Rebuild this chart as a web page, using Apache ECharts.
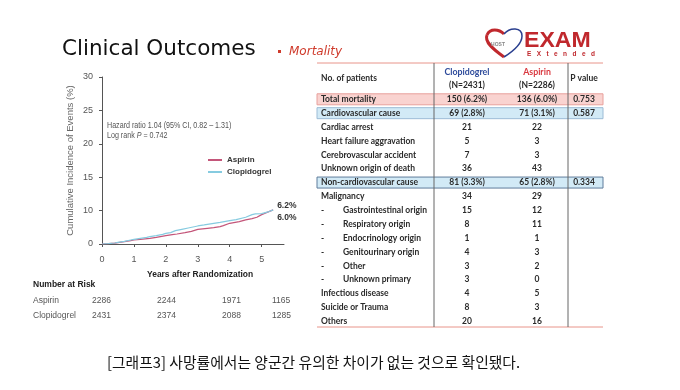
<!DOCTYPE html>
<html><head><meta charset="utf-8">
<script src="https://cdn.jsdelivr.net/npm/echarts@6/dist/echarts.min.js"></script>
<style>html,body{margin:0;padding:0;background:#fff}#c{width:680px;height:390px}</style>
</head><body><div id="c"></div>
<script>
// ---- data ----
const xTicks = [0, 1, 2, 3, 4, 5];
const yTickLabels = ['0', '10', '15', '20', '25', '30'];
const seriesNames = ['Aspirin', 'Clopidogrel'];
const aspirinCurve = [[0,0],[0.2,0.05],[0.4,0.12],[0.5,0.2],[0.7,0.35],[0.9,0.5],[1.0,0.6],[1.2,0.7],[1.5,0.85],[1.7,1.0],[2.0,1.25],[2.2,1.4],[2.35,1.5],[2.6,1.7],[2.8,1.9],[3.0,2.2],[3.3,2.35],[3.5,2.45],[3.7,2.6],[3.8,2.75],[4.0,3.1],[4.3,3.35],[4.5,3.6],[4.7,3.8],[4.85,4.0],[5.0,4.4],[5.15,4.7],[5.36,5.1]];
const clopidogrelCurve = [[0,0],[0.2,0.05],[0.4,0.15],[0.5,0.25],[0.7,0.4],[0.9,0.6],[1.0,0.7],[1.2,0.85],[1.4,1.0],[1.5,1.1],[1.7,1.25],[1.9,1.45],[2.0,1.6],[2.15,1.7],[2.3,2.0],[2.5,2.2],[2.7,2.4],[3.0,2.7],[3.2,2.85],[3.5,3.1],[3.7,3.25],[4.0,3.5],[4.2,3.65],[4.5,4.0],[4.7,4.4],[4.8,4.5],[5.0,4.55],[5.2,4.8],[5.36,5.1]];
const endLabels = ['6.0%', '6.2%'];
const riskLabels = ['Aspirin', 'Clopidogrel'];
const riskAspirin = [2286, 2244, 1971, 1165];
const riskClopidogrel = [2431, 2374, 2088, 1285];
const tableLabels = ['Total mortality','Cardiovascular cause','Cardiac arrest','Heart failure aggravation','Cerebrovascular accident','Unknown origin of death','Non-cardiovascular cause','Malignancy','Gastrointestinal origin','Respiratory origin','Endocrinology origin','Genitourinary origin','Other','Unknown primary','Infectious disease','Suicide or Trauma','Others'];
const tableClop = ['150 (6.2%)','69 (2.8%)','21','5','7','36','81 (3.3%)','34','15','8','1','4','3','3','4','8','20'];
const tableAsp = ['136 (6.0%)','71 (3.1%)','22','3','3','43','65 (2.8%)','29','12','11','1','3','2','0','5','3','16'];
const tablePval = ['0.753','0.587','','','','','0.334','','','','','','','','','',''];

// ---- styling helpers ----
const pinkRows = [0], blueRows = [1, 6], subRows = [8,9,10,11,12,13];
const TF = '"Lato", "Open Sans", sans-serif';
const LS = '"Liberation Sans", Arial, sans-serif';
function txt(x, y, text, font, fill, align, extra) {
  return Object.assign({ type: 'text', x: x, y: y, silent: true,
    style: { text: text, font: font, fill: fill, textAlign: align || 'left', align: align || 'left',
             textVerticalAlign: 'middle', verticalAlign: 'middle' } }, extra || {});
}
function bz(p, stroke, w) {
  return { type: 'bezierCurve', silent: true,
    shape: { x1: p[0], y1: p[1], cpx1: p[2], cpy1: p[3], cpx2: p[4], cpy2: p[5], x2: p[6], y2: p[7] },
    style: { fill: null, stroke: stroke, lineWidth: w } };
}
const g = [];
// title
g.push(txt(62, 49, 'Clinical Outcomes', '21.5px "DejaVu Sans", Verdana, sans-serif', '#111'));
g.push({ type: 'rect', shape: { x: 278, y: 50, width: 3, height: 3 }, style: { fill: '#cf3b2c' } });
g.push(txt(289, 52, 'Mortality', 'italic 12px "DejaVu Sans", sans-serif', '#cf3b2c'));
// logo
g.push(bz([504,57, 494,50, 484,42, 487,35], '#c0282d', 3));
g.push(bz([487,35, 490,28, 499,29, 504,34], '#c0282d', 3));
g.push(bz([504,34, 510,27, 522,27, 522,36], '#2a3f8f', 1.5));
g.push(bz([522,36, 522,44, 512,52, 504,57], '#2a3f8f', 1.5));
g.push(txt(498, 45, 'HOST', 'bold 5px ' + LS, '#888', 'center'));
g.push(txt(524, 41, 'EXAM', 'bold 22px ' + LS, '#c0282d', 'left', { scaleX: 1.05 }));
g.push(txt(527, 54, 'E   X   t   e   n   d   e   d', 'bold 6.5px ' + LS, '#c0282d'));
// table
const TL = 317, TR = 603, TT = 63, TB = 327, R0 = 99.3, RP = 13.875;
const cx = [467, 537, 584];
pinkRows.forEach(i => {
  const y = R0 + i * RP;
  g.push({ type: 'rect', shape: { x: TL, y: y - 5.5, width: TR - TL, height: 11 }, style: { fill: '#f9d3d0', stroke: '#e8a09c', lineWidth: 1 } });
});
blueRows.forEach(i => {
  const y = R0 + i * RP;
  g.push({ type: 'rect', shape: { x: TL, y: y - 5.5, width: TR - TL, height: 11 }, style: { fill: '#d2eaf6', stroke: i === 6 ? '#5f7d9c' : '#9cbcd6', lineWidth: 1 } });
});
g.push({ type: 'line', shape: { x1: TL, y1: TT, x2: TR, y2: TT }, style: { stroke: '#e8948a', lineWidth: 1 } });
g.push({ type: 'line', shape: { x1: TL, y1: TB, x2: TR, y2: TB }, style: { stroke: '#e8948a', lineWidth: 1 } });
g.push({ type: 'line', shape: { x1: 434, y1: TT, x2: 434, y2: TB }, style: { stroke: '#666', lineWidth: 1 } });
g.push({ type: 'line', shape: { x1: 568, y1: TT, x2: 568, y2: TB }, style: { stroke: '#666', lineWidth: 1 } });
const HF = '700 8.5px ' + TF;
const TC = '#2a2a2a';
g.push(txt(321, 78, 'No. of patients', HF, TC));
g.push(txt(cx[0], 72.5, 'Clopidogrel', '700 8.8px ' + TF, '#2f4c9c', 'center'));
g.push(txt(cx[0], 85, '(N=2431)', HF, TC, 'center'));
g.push(txt(cx[1], 72.5, 'Aspirin', '700 8.8px ' + TF, '#d9383f', 'center'));
g.push(txt(cx[1], 85, '(N=2286)', HF, TC, 'center'));
g.push(txt(cx[2], 78, 'P value', HF, TC, 'center'));
tableLabels.forEach((lab, i) => {
  const y = R0 + i * RP;
  if (subRows.indexOf(i) >= 0) {
    g.push(txt(321, y, '-', HF, TC));
    g.push(txt(343, y, lab, HF, TC));
  } else {
    g.push(txt(321, y, lab, HF, TC));
  }
  g.push(txt(cx[0], y, tableClop[i], HF, TC, 'center'));
  g.push(txt(cx[1], y, tableAsp[i], HF, TC, 'center'));
  if (tablePval[i]) g.push(txt(cx[2], y, tablePval[i], HF, TC, 'center'));
});
// annotations on the plot
const AF = '9.5px ' + LS;
g.push(txt(107, 125, 'Hazard ratio 1.04 (95% CI, 0.82 \u2013 1.31)', AF, '#555', 'left', { scaleX: 0.75 }));
g.push({ type: 'text', x: 107, y: 135.5, silent: true, scaleX: 0.75, style: { text: 'Log rank {i|P} = 0.742', font: AF, fill: '#555', textVerticalAlign: 'middle', verticalAlign: 'middle',
  rich: { i: { fontStyle: 'italic', fontSize: 9.5, fontFamily: LS, fill: '#555', color: '#555' } } } });
// number at risk
const RF = '8.5px ' + LS;
g.push(txt(147, 274, 'Years after Randomization', 'bold 9.5px ' + LS, '#222', 'left', { scaleX: 0.89 }));
g.push(txt(33, 285, 'Number at Risk', 'bold 8.5px ' + LS, '#222'));
const riskX = [92, 157, 222, 272];
[riskAspirin, riskClopidogrel].forEach((arr, r) => {
  const y = 301 + r * 14.5;
  g.push(txt(33, y, riskLabels[r], RF, '#555'));
  arr.forEach((v, k) => g.push(txt(riskX[k], y, String(v), RF, '#555')));
});
// caption
g.push(txt(107, 362, '[그래프3] 사망률에서는 양군간 유의한 차이가 없는 것으로 확인됐다.', '14.8px "Noto Sans CJK KR", sans-serif', '#111'));

const colors = ['#c4567a', '#86cbe0'];
const chart = echarts.init(document.getElementById('c'), null, { renderer: 'canvas' });
chart.setOption({
  animation: false,
  grid: { left: 102, top: 77, right: 396, bottom: 146, containLabel: false },
  xAxis: {
    type: 'value', min: 0, max: 5.7, offset: 8,
    axisLine: { lineStyle: { color: '#555', width: 1 } },
    axisTick: { show: true, length: 3, customValues: xTicks, lineStyle: { color: '#555' } },
    axisLabel: { customValues: xTicks, color: '#555', fontSize: 9, margin: 3, fontFamily: LS },
    splitLine: { show: false }
  },
  yAxis: {
    type: 'value', min: 0, max: 25, interval: 5, offset: 6,
    name: 'Cumulative Incidence of Events (%)', nameLocation: 'middle', nameGap: 21,
    nameTextStyle: { color: '#666', fontSize: 9.5, fontFamily: LS },
    axisLine: { show: true, lineStyle: { color: '#555', width: 1 } },
    axisTick: { show: true, length: 3, lineStyle: { color: '#555' } },
    axisLabel: { color: '#555', fontSize: 9, margin: 3, fontFamily: LS,
      formatter: v => yTickLabels[Math.round(v / 5)] },
    splitLine: { show: false }
  },
  legend: {
    orient: 'vertical', left: 208, top: 156, padding: 0, itemWidth: 14, itemHeight: 2, itemGap: 4, icon: 'rect',
    data: seriesNames,
    textStyle: { color: '#333', fontSize: 8, fontWeight: 'bold', fontFamily: LS }
  },
  series: [
    { name: seriesNames[0], type: 'line', data: aspirinCurve, showSymbol: false, color: colors[0], lineStyle: { width: 1.2 },
      endLabel: { show: true, formatter: endLabels[0], offset: [0, 8], distance: 4, color: '#333', fontSize: 8.5, fontWeight: 'bold', fontFamily: LS } },
    { name: seriesNames[1], type: 'line', data: clopidogrelCurve, showSymbol: false, color: colors[1], lineStyle: { width: 1.2 },
      endLabel: { show: true, formatter: endLabels[1], offset: [0, -4], distance: 4, color: '#333', fontSize: 8.5, fontWeight: 'bold', fontFamily: LS } }
  ],
  graphic: { elements: g }
});
</script></body></html>
